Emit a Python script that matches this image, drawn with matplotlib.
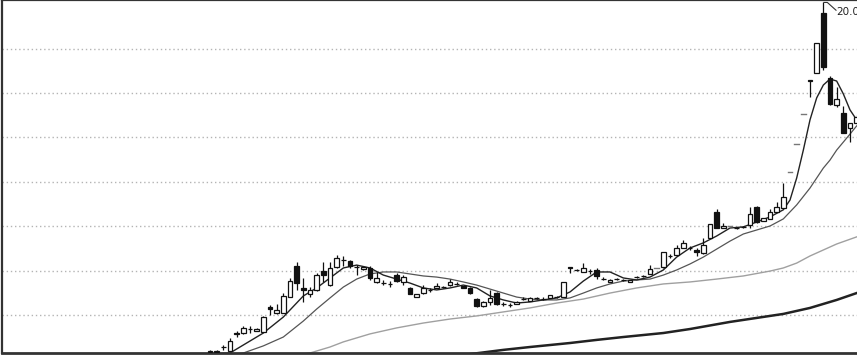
import matplotlib
matplotlib.use("Agg")
import matplotlib.pyplot as plt
from matplotlib.patches import Rectangle

# === 日K資料 (讀圖估值) ===============================================
opens = [4.33, 4.34, 4.55, 4.39, 5.17, 5.19, 5.36, 5.28, 5.24, 6.36,
         6.09, 6.09, 6.81, 8.21, 7.22, 6.95, 7.13, 7.98, 7.35, 8.16,
         8.47, 8.43, 8.17, 8.07, 8.12, 7.49, 7.45, 7.42, 7.80, 7.49,
         7.22, 6.81, 6.99, 7.12, 7.22, 7.25, 7.35, 7.38, 7.29, 7.22,
         6.72, 6.41, 6.59, 6.99, 6.51, 6.46, 6.50, 6.71, 6.63, 6.76,
         6.73, 6.77, 6.83, 6.81, 8.18, 8.02, 7.94, 7.99, 8.03, 7.63,
         7.49, 7.61, 7.59, 7.49, 7.70, 7.75, 7.85, 8.12, 8.16, 8.65,
         8.70, 9.02, 9.03, 8.93, 8.79, 9.47, 10.64, 9.92, 10.01, 9.93,
         9.96, 10.06, 10.87, 10.24, 10.33, 10.64, 10.82, 12.44, 13.70, 15.06,
         16.59, 16.90, 19.61, 16.68, 15.46, 15.10, 14.43, 14.65]
highs = [4.42, 4.43, 4.65, 4.97, 5.28, 5.51, 5.51, 5.40, 5.96, 6.45,
         6.50, 6.99, 7.67, 8.39, 7.67, 7.26, 7.89, 8.39, 8.39, 8.70,
         8.66, 8.48, 8.25, 8.18, 8.21, 7.94, 7.58, 7.53, 7.89, 7.80,
         7.26, 6.97, 7.35, 7.20, 7.44, 7.33, 7.62, 7.49, 7.31, 7.26,
         6.77, 6.63, 7.13, 7.04, 6.59, 6.54, 6.63, 6.79, 6.79, 6.83,
         6.79, 6.92, 6.86, 7.51, 8.18, 8.07, 8.34, 8.07, 8.12, 7.71,
         7.62, 7.67, 7.62, 7.60, 7.76, 7.80, 8.25, 8.12, 8.86, 8.75,
         9.15, 9.38, 9.10, 9.02, 9.47, 10.12, 10.78, 10.15, 10.01, 9.97,
         10.03, 10.87, 10.91, 10.39, 10.78, 11.09, 11.95, 12.44, 13.70, 15.06,
         16.59, 18.25, 20.08, 16.77, 16.27, 15.42, 14.67, 15.00]
lows = [4.32, 4.33, 4.43, 4.37, 5.01, 5.15, 5.19, 5.26, 5.22, 6.00,
        6.05, 6.07, 6.79, 7.13, 6.59, 6.81, 7.10, 7.49, 7.33, 8.12,
        8.21, 8.12, 7.80, 8.05, 7.58, 7.44, 7.35, 7.26, 7.49, 7.35,
        6.93, 6.79, 6.97, 7.06, 7.20, 7.20, 7.33, 7.37, 7.20, 6.95,
        6.36, 6.38, 6.45, 6.45, 6.41, 6.38, 6.48, 6.68, 6.61, 6.72,
        6.68, 6.75, 6.77, 6.79, 7.89, 7.98, 7.92, 7.85, 7.62, 7.58,
        7.47, 7.58, 7.53, 7.47, 7.67, 7.71, 7.83, 8.12, 8.14, 8.57,
        8.68, 9.00, 8.93, 8.66, 8.77, 9.45, 9.90, 9.90, 10.01, 9.88,
        9.94, 9.92, 10.15, 10.22, 10.31, 10.62, 10.80, 12.44, 13.70, 15.06,
        15.82, 16.88, 17.04, 15.46, 15.37, 14.18, 13.79, 14.60]
closes = [4.40, 4.40, 4.57, 4.83, 5.13, 5.42, 5.38, 5.37, 5.91, 6.27,
          6.23, 6.86, 7.53, 7.44, 7.13, 7.13, 7.80, 7.80, 8.12, 8.57,
          8.49, 8.21, 8.15, 8.16, 7.67, 7.67, 7.43, 7.38, 7.53, 7.71,
          6.95, 6.95, 7.22, 7.14, 7.31, 7.27, 7.49, 7.41, 7.24, 6.99,
          6.41, 6.59, 6.77, 6.50, 6.49, 6.44, 6.59, 6.73, 6.77, 6.78,
          6.71, 6.90, 6.79, 7.49, 8.14, 8.04, 8.12, 7.97, 7.76, 7.61,
          7.58, 7.63, 7.57, 7.58, 7.72, 7.77, 8.07, 8.12, 8.84, 8.67,
          9.02, 9.25, 9.01, 8.84, 9.15, 10.10, 9.92, 10.01, 10.01, 9.91,
          9.98, 10.55, 10.19, 10.37, 10.64, 10.87, 11.32, 12.44, 13.70, 15.06,
          16.55, 18.25, 17.17, 15.51, 15.73, 14.20, 14.65, 14.92]

# === 均線 (讀圖取樣點) =================================================
ma5_x = [0, 3, 5, 8, 11, 14, 16, 18, 20, 22, 24, 26, 28, 30, 32, 34, 36, 38,
         40, 42, 44, 46, 48, 50, 52, 54, 56, 58, 60, 62, 64, 66, 68, 70, 72,
         74, 76, 78, 80, 82, 84, 86, 87, 88, 89, 90, 91, 92, 93, 94, 95, 96, 97]
ma5_y = [4.25, 4.29, 4.65, 5.19, 5.91, 6.86, 7.22, 7.67, 8.12, 8.25, 8.12,
         7.80, 7.62, 7.44, 7.22, 7.13, 7.22, 7.35, 7.22, 6.86, 6.68, 6.54,
         6.59, 6.68, 6.77, 7.04, 7.53, 7.94, 7.94, 7.67, 7.58, 7.71, 8.03,
         8.61, 9.02, 9.25, 9.56, 9.92, 9.97, 10.19, 10.42, 10.74, 11.18,
         12.17, 13.43, 14.79, 15.78, 16.36, 16.63, 16.54, 15.96, 15.24, 14.79]

ma10_x = [3, 5, 8, 11, 14, 16, 18, 20, 22, 24, 26, 28, 30, 32, 34, 36, 38, 40,
          42, 44, 46, 48, 50, 52, 54, 56, 58, 60, 62, 64, 66, 68, 70, 72, 74,
          76, 78, 80, 82, 84, 86, 88, 90, 91, 92, 93, 94, 95, 96, 97]
ma10_y = [4.20, 4.29, 4.61, 5.01, 5.73, 6.27, 6.77, 7.26, 7.62, 7.85, 7.94,
          7.94, 7.85, 7.76, 7.71, 7.62, 7.49, 7.35, 7.17, 6.99, 6.81, 6.72,
          6.68, 6.68, 6.77, 6.99, 7.22, 7.40, 7.53, 7.58, 7.62, 7.80, 8.03,
          8.30, 8.61, 8.97, 9.33, 9.65, 9.83, 10.01, 10.33, 10.96, 11.72,
          12.17, 12.62, 12.98, 13.43, 13.79, 14.15, 14.52]

ma30_x = [12, 15, 18, 20, 24, 28, 32, 36, 40, 44, 48, 52, 56, 60, 64, 68, 72,
          76, 80, 84, 86, 88, 90, 92, 94, 97]
ma30_y = [4.15, 4.29, 4.56, 4.79, 5.15, 5.42, 5.64, 5.82, 5.96, 6.14, 6.32,
          6.54, 6.72, 6.99, 7.22, 7.40, 7.49, 7.62, 7.76, 7.98, 8.12, 8.34,
          8.66, 8.93, 9.20, 9.52]

ma60_x = [36, 39, 44, 48, 54, 58, 62, 68, 72, 78, 82, 86, 90, 94, 97]
ma60_y = [4.10, 4.24, 4.43, 4.56, 4.74, 4.88, 5.01, 5.19, 5.37, 5.69, 5.87,
          6.05, 6.32, 6.68, 6.99]

grid_levels = [6, 8, 10, 12, 14, 16, 18]
high_label = "20.08"

# === 畫圖 ==============================================================
fig = plt.figure(figsize=(8.57, 3.57), dpi=100)
ax = fig.add_axes([2 / 857, 4 / 357, 1.0, 353 / 357])

ax.set_xlim(-31.2, 97.35)
ax.set_ylim(4.29, 20.19)

ax.hlines(grid_levels, -31.2, 97.35, colors="#b4b4b4",
          linestyles=(0, (1, 2)), linewidth=1.0, zorder=0)

# 均線
ax.plot(ma60_x, ma60_y, color="#222222", lw=1.8, zorder=1)
ax.plot(ma30_x, ma30_y, color="#a0a0a0", lw=1.0, zorder=1)
ax.plot(ma10_x, ma10_y, color="#555555", lw=0.9, zorder=1)
ax.plot(ma5_x, ma5_y, color="#222222", lw=1.0, zorder=1)

# K 線
w = 0.7
for i, (o, h, l, c) in enumerate(zip(opens, highs, lows, closes)):
    if h == l:          # 一字板
        ax.plot([i - w / 2, i + w / 2], [c, c], color="#777777",
                lw=1.0, zorder=3)
        continue
    ax.vlines(i, l, h, color="#111111", lw=0.9, zorder=2)
    bottom = min(o, c)
    height = max(abs(c - o), 0.02)
    face = "white" if c >= o else "#111111"
    ax.add_patch(Rectangle((i - w / 2, bottom), w, height,
                           facecolor=face, edgecolor="#111111",
                           linewidth=0.9, zorder=3))

# 最高價標註
top_i = highs.index(max(highs))
ax.plot([top_i + 0.1, top_i + 0.6, top_i + 1.9],
        [highs[top_i], highs[top_i], highs[top_i] - 0.35],
        color="#333333", lw=0.8, zorder=4)
ax.text(top_i + 2.0, highs[top_i] - 0.45, high_label, fontsize=7.5,
        color="#222222", va="center", ha="left", zorder=4)

ax.set_xticks([])
ax.set_yticks([])
for side in ("left", "top", "bottom"):
    ax.spines[side].set_color("#333333")
ax.spines["left"].set_linewidth(1.6)
ax.spines["top"].set_linewidth(1.6)
ax.spines["bottom"].set_linewidth(2.0)
ax.spines["right"].set_visible(False)

fig.savefig("out.png", dpi=100)
